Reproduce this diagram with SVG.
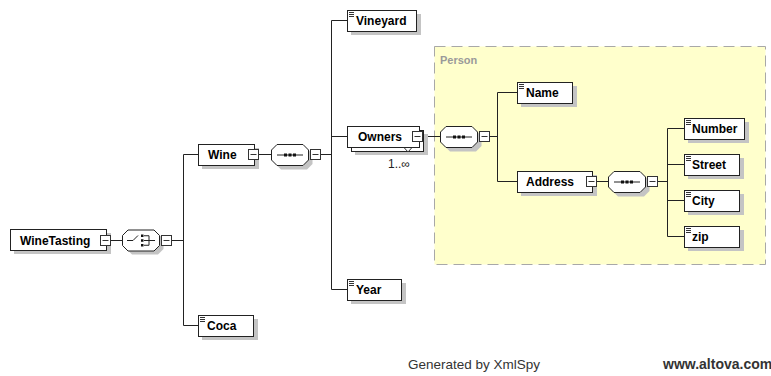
<svg xmlns="http://www.w3.org/2000/svg" width="771" height="376" viewBox="0 0 771 376">
  <style>
    .bg { fill: #ffffff; }
    .box { fill: #ffffff; stroke: #222222; stroke-width: 1; }
    .shadow { fill: #c4c4c4; stroke: none; }
    .lbl { font-family: "Liberation Sans", Arial, sans-serif; font-size: 12px; font-weight: bold; fill: #000000; }
    .wire { fill: none; stroke: #222222; stroke-width: 1; }
    .icon { fill: none; stroke: #333333; stroke-width: 1; }
    .mini { fill: #ffffff; stroke: #333333; stroke-width: 1; }
    .dot { fill: #111111; }
    .group { fill: #ffffcc; stroke: #a8a8a8; stroke-width: 1; stroke-dasharray: 11 6; }
    .grouplbl { font-family: "Liberation Sans", Arial, sans-serif; font-size: 11px; font-weight: bold; fill: #9a9a9a; }
    .occ { font-family: "Liberation Sans", Arial, sans-serif; font-size: 12px; fill: #222222; }
    .foot { font-family: "Liberation Sans", Arial, sans-serif; font-size: 13.5px; fill: #333333; }
    .footb { font-family: "Liberation Sans", Arial, sans-serif; font-size: 14px; font-weight: bold; fill: #333333; }
  </style>
  <defs>
    <!-- collapse toggle (minus box) -->
    <g id="minus">
      <rect class="mini" x="0.5" y="0.5" width="10" height="10"/>
      <path class="icon" d="M2.5 5.5 H8.5"/>
    </g>
    <!-- simple-content marker shown at the top-left of leaf elements -->
    <g id="leafmark">
      <path class="icon" d="M2 2.5 H7 M2 4.5 H7 M2 6.5 H7" stroke-width="0.9"/>
    </g>
    <!-- octagon used by compositors, 38 x 22 -->
    <path id="oct" d="M6 0.5 H32 L37.5 6 V16 L32 21.5 H6 L0.5 16 V6 Z"/>
    <!-- sequence symbol -->
    <g id="seqsym">
      <path class="wire" d="M6 11 H32"/>
      <rect class="dot" x="13" y="9.5" width="3" height="3"/>
      <rect class="dot" x="17.5" y="9.5" width="3" height="3"/>
      <rect class="dot" x="22" y="9.5" width="3" height="3"/>
    </g>
  </defs>

  <rect class="bg" x="0" y="0" width="771" height="376"/>

  <!-- complex type group -->
  <g id="person-group">
    <rect class="group" x="434.5" y="46.5" width="331" height="218"/>
    <text class="grouplbl" x="440" y="64">Person</text>
  </g>

  <!-- connectors -->
  <g id="connectors">
    <path class="wire" d="M111 240.5 H122"/>
    <path class="wire" d="M172 240.5 H183.5"/>
    <path class="wire" d="M183.5 154.5 V325.5 M183.5 154.5 H198 M183.5 325.5 H198"/>
    <path class="wire" d="M259 154.5 H271"/>
    <path class="wire" d="M321 154.5 H331.5"/>
    <path class="wire" d="M331.5 20.5 V289.5 M331.5 20.5 H347 M331.5 136.5 H347 M331.5 289.5 H347"/>
    <path class="wire" d="M423 136.5 H440"/>
    <path class="wire" d="M490 136.5 H497.5"/>
    <path class="wire" d="M497.5 92.5 V181.5 M497.5 92.5 H517 M497.5 181.5 H517"/>
    <path class="wire" d="M597 181.5 H608"/>
    <path class="wire" d="M658 181.5 H667.5"/>
    <path class="wire" d="M667.5 128.5 V236.5 M667.5 128.5 H684 M667.5 164.5 H684 M667.5 200.5 H684 M667.5 236.5 H684"/>
  </g>

  <!-- root element -->
  <g id="node-winetasting">
    <rect class="shadow" x="14" y="233" width="97" height="21"/>
    <rect class="box" x="10.5" y="229.5" width="96" height="21"/>
    <text class="lbl" x="20" y="244.5">WineTasting</text>
    <use href="#minus" x="100" y="235"/>
  </g>

  <!-- choice compositor -->
  <g id="node-choice">
    <use href="#oct" x="126" y="233" class="shadow"/>
    <use href="#oct" x="122" y="229.5" class="box"/>
    <g transform="translate(122,229.5)">
      <path class="wire" d="M5 11 H11 L16 6"/>
      <rect class="dot" x="19" y="5" width="2.5" height="2.5"/>
      <rect class="dot" x="19" y="9.75" width="2.5" height="2.5"/>
      <rect class="dot" x="19" y="14.5" width="2.5" height="2.5"/>
      <path class="wire" d="M22 6.25 H27 V15.75 H22 M22 11 H33"/>
    </g>
    <use href="#minus" x="161" y="235"/>
  </g>

  <g id="node-wine">
    <rect class="shadow" x="202" y="148" width="57" height="21"/>
    <rect class="box" x="198.5" y="144.5" width="56" height="21"/>
    <text class="lbl" x="208" y="159">Wine</text>
    <use href="#minus" x="248" y="149"/>
  </g>

  <g id="node-wine-seq">
    <use href="#oct" x="275" y="148" class="shadow"/>
    <use href="#oct" x="271" y="144" class="box"/>
    <use href="#seqsym" x="271" y="144"/>
    <use href="#minus" x="310" y="149"/>
  </g>

  <g id="node-coca">
    <rect class="shadow" x="202" y="319" width="56" height="21"/>
    <rect class="box" x="198.5" y="315.5" width="55" height="21"/>
    <use href="#leafmark" x="198" y="315"/>
    <text class="lbl" x="207" y="330">Coca</text>
  </g>

  <g id="node-vineyard">
    <rect class="shadow" x="351" y="14" width="70" height="21"/>
    <rect class="box" x="347.5" y="10.5" width="69" height="21"/>
    <use href="#leafmark" x="347" y="10"/>
    <text class="lbl" x="356" y="25">Vineyard</text>
  </g>

  <g id="node-owners">
    <rect class="shadow" x="355" y="134" width="73" height="21"/>
    <rect class="box" x="351.5" y="130.5" width="72" height="21"/>
    <rect class="box" x="347.5" y="126.5" width="72" height="21"/>
    <text class="lbl" x="358" y="141">Owners</text>
    <use href="#minus" x="412" y="131"/>
    <path class="icon" d="M404 147.5 L408 152 L412 147.5" stroke="#666666"/>
    <text class="occ" x="388" y="168">1..∞</text>
  </g>

  <g id="node-year">
    <rect class="shadow" x="351" y="283" width="55" height="21"/>
    <rect class="box" x="347.5" y="279.5" width="54" height="21"/>
    <use href="#leafmark" x="347" y="279"/>
    <text class="lbl" x="356" y="294">Year</text>
  </g>

  <g id="node-owners-seq">
    <use href="#oct" x="444" y="130" class="shadow"/>
    <use href="#oct" x="440" y="126" class="box"/>
    <use href="#seqsym" x="440" y="126"/>
    <use href="#minus" x="479" y="131"/>
  </g>

  <g id="node-name">
    <rect class="shadow" x="521" y="86" width="56" height="21"/>
    <rect class="box" x="517.5" y="82.5" width="55" height="21"/>
    <use href="#leafmark" x="517" y="82"/>
    <text class="lbl" x="526" y="97">Name</text>
  </g>

  <g id="node-address">
    <rect class="shadow" x="521" y="175" width="76" height="21"/>
    <rect class="box" x="517.5" y="171.5" width="75" height="21"/>
    <text class="lbl" x="526" y="186">Address</text>
    <use href="#minus" x="586" y="176"/>
  </g>

  <g id="node-address-seq">
    <use href="#oct" x="612" y="175" class="shadow"/>
    <use href="#oct" x="608" y="171" class="box"/>
    <use href="#seqsym" x="608" y="171"/>
    <use href="#minus" x="647" y="176"/>
  </g>

  <g id="node-number">
    <rect class="shadow" x="688" y="122" width="61" height="21"/>
    <rect class="box" x="684.5" y="118.5" width="60" height="21"/>
    <use href="#leafmark" x="684" y="118"/>
    <text class="lbl" x="692" y="133">Number</text>
  </g>

  <g id="node-street">
    <rect class="shadow" x="688" y="158" width="56" height="21"/>
    <rect class="box" x="684.5" y="154.5" width="55" height="21"/>
    <use href="#leafmark" x="684" y="154"/>
    <text class="lbl" x="692" y="169">Street</text>
  </g>

  <g id="node-city">
    <rect class="shadow" x="688" y="194" width="56" height="21"/>
    <rect class="box" x="684.5" y="190.5" width="55" height="21"/>
    <use href="#leafmark" x="684" y="190"/>
    <text class="lbl" x="692" y="205">City</text>
  </g>

  <g id="node-zip">
    <rect class="shadow" x="688" y="230" width="56" height="21"/>
    <rect class="box" x="684.5" y="226.5" width="55" height="21"/>
    <use href="#leafmark" x="684" y="226"/>
    <text class="lbl" x="692" y="241">zip</text>
  </g>

  <g id="footer">
    <text class="foot" x="408" y="369">Generated by XmlSpy</text>
    <text class="footb" x="663" y="369">www.altova.com</text>
  </g>
</svg>
